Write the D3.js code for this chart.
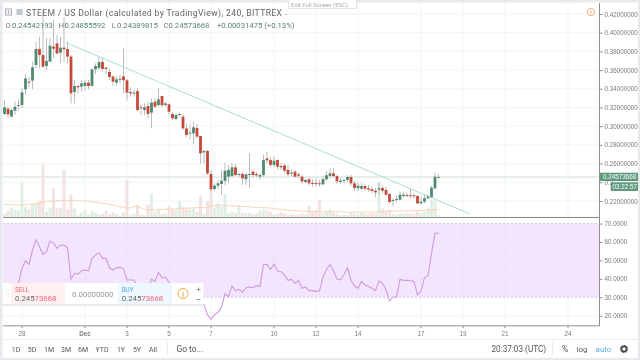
<!DOCTYPE html>
<html>
<head>
<meta charset="utf-8">
<script src="https://cdn.jsdelivr.net/npm/d3@7"></script>
<style>
html, body { margin: 0; padding: 0; background: #e6eaee; overflow: hidden; }
svg { display: block; font-family: "Liberation Sans", sans-serif; filter: blur(0.3px); }
</style>
</head>
<body>
<svg width="640" height="360"></svg>
<script>
// candles are 4h apart, first one at firstCandle
var firstCandle = Date.UTC(2018, 10, 27, 4);
var opens = [.3131,.3187,.3102,.3166,.3223,.3227,.3394,.3476,.3487,.3655,
	.3826,.3761,.3644,.3690,.3851,.3886,.3786,.3840,.3826,.3744,
	.3366,.3430,.3423,.3430,.3466,.3430,.3608,.3622,.3687,.3626,
	.3580,.3530,.3466,.3501,.3533,.3491,.3366,.3348,.3376,.3202,
	.3173,.3216,.3145,.3262,.3227,.3323,.3227,.3234,.3131,.3077,
	.3120,.3102,.2977,.2920,.2924,.2981,.2895,.2720,.2735,.2489,
	.2328,.2364,.2382,.2414,.2460,.2467,.2560,.2478,.2489,.2432,
	.2478,.2514,.2489,.2460,.2478,.2656,.2638,.2585,.2638,.2574,
	.2581,.2532,.2496,.2514,.2485,.2460,.2403,.2432,.2393,.2393,
	.2389,.2378,.2432,.2467,.2496,.2467,.2403,.2414,.2425,.2457,
	.2389,.2335,.2332,.2360,.2335,.2325,.2310,.2321,.2339,.2318,
	.2275,.2200,.2211,.2214,.2253,.2264,.2261,.2261,.2253,.2175,
	.2193,.2229,.2236,.2335,.2454];
var closes = [.3202,.3127,.3173,.3209,.3227,.3362,.3512,.3466,.3630,.3826,
	.3761,.3637,.3697,.3861,.3829,.3779,.3840,.3822,.3744,.3352,
	.3430,.3416,.3458,.3466,.3430,.3608,.3644,.3687,.3612,.3612,
	.3526,.3476,.3501,.3508,.3491,.3359,.3352,.3359,.3173,.3191,
	.3202,.3131,.3252,.3209,.3287,.3223,.3244,.3155,.3084,.3120,
	.3131,.2977,.2906,.2931,.2988,.2888,.2710,.2735,.2496,.2325,
	.2364,.2389,.2417,.2524,.2532,.2560,.2478,.2489,.2442,.2485,
	.2489,.2478,.2475,.2478,.2638,.2635,.2585,.2631,.2567,.2560,
	.2524,.2485,.2503,.2460,.2471,.2410,.2425,.2389,.2385,.2385,
	.2382,.2435,.2475,.2496,.2467,.2410,.2417,.2425,.2457,.2389,
	.2339,.2364,.2360,.2332,.2321,.2307,.2292,.2335,.2310,.2268,
	.2189,.2211,.2221,.2268,.2268,.2253,.2253,.2250,.2175,.2193,
	.2229,.2253,.2342,.2460,.2457];
var highs = [.3280,.3209,.3191,.3262,.3287,.3405,.3558,.3530,.3690,.3904,
	.3958,.4243,.3940,.3940,.4136,.3975,.3958,.4171,.3904,.3761,
	.3494,.3441,.3494,.3494,.3494,.3619,.3672,.3744,.3736,.3630,
	.3619,.3548,.3537,.3548,.3833,.3512,.3416,.3387,.3405,.3227,
	.3244,.3262,.3298,.3298,.3405,.3323,.3262,.3244,.3155,.3138,
	.3145,.3120,.3031,.3023,.3048,.3023,.2895,.2745,.2745,.2532,
	.2389,.2425,.2532,.2610,.2585,.2603,.2596,.2503,.2514,.2496,
	.2710,.2532,.2514,.2503,.2692,.2724,.2667,.2674,.2646,.2610,
	.2603,.2585,.2539,.2532,.2503,.2478,.2442,.2453,.2432,.2442,
	.2425,.2460,.2524,.2549,.2549,.2478,.2442,.2432,.2478,.2478,
	.2417,.2396,.2389,.2382,.2371,.2353,.2339,.2396,.2360,.2353,
	.2282,.2229,.2264,.2300,.2300,.2289,.2335,.2282,.2261,.2246,
	.2264,.2275,.2360,.2503,.2486];
var lows = [.3120,.3084,.3095,.3120,.3173,.3191,.3334,.3416,.3394,.3619,
	.3619,.3619,.3601,.3690,.3726,.3761,.3672,.3690,.3672,.3244,
	.3244,.3352,.3369,.3387,.3394,.3423,.3558,.3601,.3594,.3558,
	.3494,.3430,.3430,.3458,.3352,.3273,.3316,.3316,.3155,.3120,
	.3120,.3084,.2977,.3191,.3209,.3209,.3209,.3120,.3066,.3059,
	.3102,.2959,.2881,.2859,.2810,.2870,.2603,.2603,.2478,.2282,
	.2310,.2325,.2264,.2364,.2389,.2453,.2467,.2460,.2371,.2371,
	.2335,.2453,.2453,.2425,.2460,.2603,.2567,.2560,.2539,.2532,
	.2503,.2467,.2467,.2453,.2442,.2382,.2389,.2371,.2353,.2353,
	.2353,.2364,.2417,.2442,.2453,.2382,.2382,.2389,.2407,.2360,
	.2307,.2303,.2318,.2310,.2300,.2289,.2239,.2264,.2282,.2253,
	.2175,.2147,.2182,.2204,.2239,.2239,.2229,.2225,.2168,.2168,
	.2175,.2218,.2229,.2325,.2439];
var volumes = [8,18,28,22,20,102,30,23,40,42,48,157,14,27,86,25,26,140,22,65,
	25,5,12,22,7,17,12,7,8,18,7,13,8,3,12,110,4,9,35,8,
	5,36,70,15,20,8,10,32,22,20,47,30,22,22,24,15,62,10,46,70,
	28,40,30,70,10,15,12,35,10,12,12,8,10,18,22,20,15,8,8,15,
	10,6,8,5,6,10,7,32,15,20,50,10,15,22,12,8,5,6,6,12,
	10,7,12,8,8,12,10,105,25,15,20,8,6,10,8,10,10,8,20,12,
	15,25,50,50,4];
var volumeMA = [37,37,36,36,36,35,36,37,38,38,40,45,46,47,47,48,49,49,48,48,
	48,48,48,48,47,45,43,42,40,39,37,35,33,31,28,26,27,30,32,27,
	22,20,21,21,22,22,23,23,24,24,25,25,26,26,27,27,28,27,30,34,
	35,35,34,33,33,32,32,32,31,31,30,29,28,28,27,27,26,24,23,22,
	21,20,19,19,18,17,17,16,16,15,15,15,15,15,15,15,15,14,14,14,
	14,14,14,14,14,14,14,15,16,17,18,18,18,18,18,18,18,18,19,19,
	20,20,20,21,21];
var rsi = [34,33,31,32,37.6,45.7,49.8,47.8,55.6,61.2,57.4,53.2,54.7,60.5,59.4,56.5,58.3,58.3,56.8,39.9,
	43.0,42.6,44.4,44.8,44.4,51.1,52.9,54.3,51.1,51.1,46.0,44.8,46.0,46.2,45.7,39.4,39.4,39.4,35.8,34.0,
	33.1,34.0,39.9,38.5,43.5,40.6,41.0,38.1,35.8,32.2,33.1,30.4,28.6,28.6,29.5,28.6,25.9,25.9,20.5,18.1,
	20.5,21.9,24.6,31.8,30.4,36.1,33.6,34.3,32.7,35.2,35.6,35.2,36.3,35.8,47.8,47.8,45.1,48.0,44.2,43.9,
	42.1,39.2,39.7,37.6,39.2,34.9,35.6,33.6,33.6,33.2,33.4,41.2,45.1,47.8,44.4,39.9,39.4,42.4,46.0,39.4,
	36.1,34.9,38.6,36.7,35.8,34.9,33.6,38.8,37.6,34.0,28.0,30.2,30.2,39.7,39.2,39.2,39.0,38.6,31.3,33.4,
	40.6,41.7,53.8,64.6,64.8];

var priceTicks = [.22,.24,.26,.28,.30,.32,.34,.36,.38,.40,.42];
var rsiTicks = [20,30,40,50,60,70];
var dayTicks = [[Date.UTC(2018,10,28),"28"],[Date.UTC(2018,11,1),"Dec"],[Date.UTC(2018,11,3),"3"],[Date.UTC(2018,11,5),"5"],
	[Date.UTC(2018,11,7),"7"],[Date.UTC(2018,11,10),"10"],[Date.UTC(2018,11,12),"12"],[Date.UTC(2018,11,14),"14"],
	[Date.UTC(2018,11,17),"17"],[Date.UTC(2018,11,19),"19"],[Date.UTC(2018,11,21),"21"],[Date.UTC(2018,11,24),"24"]];
var trendDates = [Date.UTC(2018,10,30,2), Date.UTC(2018,11,19,8)];
var trendPrices = [.3895, .2061];
var lastPrice = .24573668;
var ranges = ["1D","5D","1M","3M","6M","YTD","1Y","5Y","All"];
var rangeX = [16,32,49,66,83,102,121,137,153];

var green = "#53896f", red = "#c4493a", wick = "#bcbcbc", grid = "#f3f4f6", axisGrey = "#8e8e8e", textGrey = "#7b7b7b";

var svg = d3.select("svg");

// scales
var x = d3.scaleUtc().domain([Date.UTC(2018,10,27), Date.UTC(2018,11,26)]).range([1, 610]);
var y = d3.scaleLinear().domain([.22, .42]).range([201, 14]);
var yVol = d3.scaleLinear().domain([0, 300]).range([216.8, 116.8]);
var yRsi = d3.scaleLinear().domain([30, 70]).range([297.3, 223.5]);
var candleX = function(i){ return x(firstCandle + i * 4 * 3600 * 1000); };

// white chart card
svg.append("rect").attr("x", 2.5).attr("y", 2.5).attr("width", 635.5).attr("height", 355.5).attr("fill", "#fff");

// grid
var gridG = svg.append("g").attr("stroke", grid).attr("stroke-width", 1);
dayTicks.forEach(function(d){
	gridG.append("line").attr("x1", x(d[0])).attr("x2", x(d[0])).attr("y1", 3).attr("y2", 325);
});
priceTicks.forEach(function(d){
	gridG.append("line").attr("x1", 3).attr("x2", 599).attr("y1", y(d)).attr("y2", y(d));
});

// rsi band
svg.append("rect").attr("x", 3).attr("y", yRsi(70)).attr("width", 596.5).attr("height", yRsi(30) - yRsi(70)).attr("fill", "#f3e5fe");
var rsiGrid = svg.append("g").attr("stroke", "#ebe2f3");
dayTicks.forEach(function(d){
	rsiGrid.append("line").attr("x1", x(d[0])).attr("x2", x(d[0])).attr("y1", yRsi(70)).attr("y2", yRsi(30));
});
rsiTicks.forEach(function(d){
	if(d > 30 && d < 70)
		rsiGrid.append("line").attr("x1", 3).attr("x2", 599).attr("y1", yRsi(d)).attr("y2", yRsi(d));
});
gridG.append("line").attr("x1", 3).attr("x2", 599).attr("y1", yRsi(20)).attr("y2", yRsi(20));
[30, 70].forEach(function(d){
	svg.append("line").attr("x1", 3).attr("x2", 599).attr("y1", yRsi(d)).attr("y2", yRsi(d))
		.attr("stroke", "#d9c8e6").attr("stroke-dasharray", "2,2");
});

// last price line
svg.append("line").attr("x1", 3).attr("x2", 599).attr("y1", y(lastPrice)).attr("y2", y(lastPrice))
	.attr("stroke", "#dce9e3").attr("stroke-width", 1.5);

// volume
svg.append("g").selectAll("rect").data(volumes).enter().append("rect")
	.attr("x", (d, i) => candleX(i) - 1.5)
	.attr("width", 3)
	.attr("y", d => yVol(d))
	.attr("height", d => yVol(0) - yVol(d))
	.attr("fill", (d, i) => closes[i] >= opens[i] ? "#e0efe3" : "#f3e2e2");

svg.append("path")
	.attr("d", d3.line().x((d, i) => candleX(i)).y(d => yVol(d))(volumeMA))
	.attr("fill", "none").attr("stroke", "#fbd3b5").attr("stroke-width", 1);

// candles
svg.append("g").selectAll("line").data(highs).enter().append("line")
	.attr("x1", (d, i) => candleX(i)).attr("x2", (d, i) => candleX(i))
	.attr("y1", d => y(d)).attr("y2", (d, i) => y(lows[i]))
	.attr("stroke", wick).attr("stroke-width", 1);
svg.append("g").selectAll("rect").data(opens).enter().append("rect")
	.attr("x", (d, i) => candleX(i) - 1.4)
	.attr("width", 2.8)
	.attr("y", (d, i) => y(Math.max(d, closes[i])))
	.attr("height", (d, i) => Math.max(1, Math.abs(y(d) - y(closes[i]))))
	.attr("fill", (d, i) => closes[i] >= d ? green : red);

// trend line
svg.append("line")
	.attr("x1", x(trendDates[0])).attr("y1", y(trendPrices[0]))
	.attr("x2", x(trendDates[1])).attr("y2", y(trendPrices[1]))
	.attr("stroke", "#a8e0d0").attr("stroke-width", 1);

// rsi line
svg.append("path")
	.attr("d", d3.line().x((d, i) => candleX(i)).y(d => yRsi(d))(rsi))
	.attr("fill", "none").attr("stroke", "#cf9ade").attr("stroke-width", 1.1);

// panel dividers
svg.append("line").attr("x1", 3).attr("x2", 600).attr("y1", 217.5).attr("y2", 217.5).attr("stroke", "#8a8a8a").attr("stroke-width", 1.2);
svg.append("line").attr("x1", 3).attr("x2", 600).attr("y1", 325.7).attr("y2", 325.7).attr("stroke", "#b5b5b5").attr("stroke-width", 1.4);

// right axes, the 0.24 label is mostly covered by the countdown tag so only "0.2" shows
var priceAxis = d3.axisRight(y).tickValues(priceTicks).tickFormat(d => d == .24 ? "0.2" : d3.format(".8f")(d)).tickSize(3).tickPadding(2);
var rsiAxis = d3.axisRight(yRsi).tickValues(rsiTicks).tickFormat(d3.format(".4f")).tickSize(3).tickPadding(2);
[priceAxis, rsiAxis].forEach(function(a){
	var g = svg.append("g").attr("transform", "translate(599.5,0)").call(a);
	g.select(".domain").remove();
	g.selectAll("line").attr("stroke", axisGrey);
	g.selectAll("text").attr("fill", textGrey).attr("font-size", 6.3).attr("font-family", "Liberation Sans");
});
svg.append("line").attr("x1", 599.5).attr("x2", 599.5).attr("y1", 3).attr("y2", 326).attr("stroke", axisGrey).attr("stroke-width", 1);

// bottom axis
var bottom = svg.append("g");
dayTicks.forEach(function(d){
	bottom.append("line").attr("x1", x(d[0])).attr("x2", x(d[0])).attr("y1", 326).attr("y2", 328).attr("stroke", axisGrey);
	bottom.append("text").attr("x", x(d[0])).attr("y", 336).attr("text-anchor", "middle")
		.attr("font-size", 6.3).attr("fill", textGrey).attr("font-weight", d[1] == "Dec" ? "bold" : "normal").text(d[1]);
});

// last price tags
svg.append("rect").attr("x", 600).attr("y", 172.7).attr("width", 38).attr("height", 8.4).attr("fill", "#5f9a7e");
svg.append("text").attr("x", 603).attr("y", 179).attr("font-size", 6.3).attr("fill", "#fff").text("0.24573668");
svg.append("rect").attr("x", 610.7).attr("y", 182.3).attr("width", 27.3).attr("height", 8.7).attr("fill", "#5f9a7e");
svg.append("text").attr("x", 612.5).attr("y", 189).attr("font-size", 6.3).attr("fill", "#fff").text("03:22:57");

// header
var titleFont = "Roboto";
svg.append("rect").attr("x", 5.5).attr("y", 9).attr("width", 6).attr("height", 6).attr("fill", "none").attr("stroke", "#aab");
svg.append("path").attr("d", "M8.5 10V14M6.5 12H10.5").attr("stroke", "#aab").attr("stroke-width", .7);
svg.append("rect").attr("x", 16.5).attr("y", 9).attr("width", 6).attr("height", 6).attr("fill", "#c3c8d0");
svg.append("text").attr("x", 26).attr("y", 16).attr("font-family", titleFont).attr("font-size", 8.6).attr("fill", "#666")
	.attr("textLength", 256).text("STEEM / US Dollar (calculated by TradingView), 240, BITTREX");
svg.append("text").attr("x", 285).attr("y", 15.5).attr("font-size", 8).attr("fill", "#888").text("-");

var ohlcLabels = ["O", "H", "L", "C"];
var ohlcValues = ["0.24542193", "0.24855592", "0.24389815", "0.24573668"];
var ohlcLabelX = [5.5, 58.5, 111.7, 163.5];
var ohlcValueX = [12, 64.5, 117, 168.5];
ohlcLabels.forEach(function(d, i){
	svg.append("text").attr("x", ohlcLabelX[i]).attr("y", 27.5).attr("font-family", titleFont).attr("font-size", 7.7).attr("fill", "#777").text(d);
	svg.append("text").attr("x", ohlcValueX[i]).attr("y", 27.5).attr("font-family", titleFont).attr("font-size", 7.7)
		.attr("fill", "#53836e").text(ohlcValues[i]);
});
svg.append("text").attr("x", 217).attr("y", 27.5).attr("font-family", titleFont).attr("font-size", 7.7)
	.attr("fill", "#53836e").text("+0.00031475 (+0.13%)");

// exit full screen tooltip
svg.append("rect").attr("x", 288.5).attr("y", -1).attr("width", 68).attr("height", 9.5).attr("fill", "#fff").attr("stroke", "#e3e3e3");
svg.append("text").attr("x", 291).attr("y", 6.5).attr("font-family", titleFont).attr("font-size", 6).attr("fill", "#aaa").text("Exit Full Screen (ESC)");

// alert icon
svg.append("circle").attr("cx", 591).attr("cy", 12).attr("r", 3.7).attr("fill", "none").attr("stroke", "#f8b27c").attr("stroke-width", 1);
svg.append("path").attr("d", "M591 10V14").attr("stroke", "#f8b27c").attr("stroke-width", 1);

// trade panel
svg.append("rect").attr("x", 3).attr("y", 283).attr("width", 200.5).attr("height", 22.5).attr("fill", "#fff");
svg.append("line").attr("x1", 3).attr("x2", 203.5).attr("y1", 305).attr("y2", 305).attr("stroke", "#dfe3e8").attr("stroke-width", 1.5);
svg.append("rect").attr("x", 11).attr("y", 283).attr("width", 54).attr("height", 21).attr("fill", "#fff1f2");
svg.append("rect").attr("x", 118).attr("y", 283).attr("width", 54).attr("height", 21).attr("fill", "#eef7fe");
svg.append("path").attr("d", "M6 291H9M6 293.5H9M6 296H9").attr("stroke", "#ddd").attr("stroke-dasharray", "1,1");
svg.append("text").attr("x", 15).attr("y", 292).attr("font-family", titleFont).attr("font-size", 6.3).attr("fill", "#f0637a").text("SELL");
svg.append("text").attr("x", 121.7).attr("y", 292).attr("font-family", titleFont).attr("font-size", 6.3).attr("fill", "#4ba7ee").text("BUY");
[[15, 300.5], [121.7, 300.5]].forEach(function(p){
	var t = svg.append("text").attr("x", p[0]).attr("y", p[1]).attr("font-family", titleFont).attr("font-size", 7.8).attr("fill", "#666");
	t.append("tspan").text("0.245");
	t.append("tspan").attr("fill", "#f0637a").text("73668");
});
svg.append("text").attr("x", 72).attr("y", 296.5).attr("font-family", titleFont).attr("font-size", 7.8).attr("fill", "#999").text("0.00000000");
svg.append("circle").attr("cx", 183).attr("cy", 293.5).attr("r", 5).attr("fill", "none").attr("stroke", "#f5a542").attr("stroke-width", 1);
svg.append("text").attr("x", 183).attr("y", 296.5).attr("text-anchor", "middle").attr("font-size", 7.5).attr("font-weight", "bold").attr("fill", "#f5a542").text("i");
svg.append("text").attr("x", 198.5).attr("y", 292).attr("text-anchor", "middle").attr("font-size", 8).attr("fill", "#555").text("+");
svg.append("text").attr("x", 198.5).attr("y", 302).attr("text-anchor", "middle").attr("font-size", 8).attr("fill", "#555").text("−");

// bottom toolbar
svg.append("line").attr("x1", 3).attr("x2", 638).attr("y1", 339.5).attr("y2", 339.5).attr("stroke", "#eceef1");
ranges.forEach(function(d, i){
	svg.append("text").attr("x", rangeX[i]).attr("y", 352).attr("text-anchor", "middle")
		.attr("font-family", titleFont).attr("font-size", 7).attr("fill", "#555").text(d);
});
svg.append("line").attr("x1", 167.5).attr("x2", 167.5).attr("y1", 342).attr("y2", 355).attr("stroke", "#e8eaed");
svg.append("text").attr("x", 176.5).attr("y", 352).attr("font-family", titleFont).attr("font-size", 8.4).attr("fill", "#555").text("Go to...");
svg.append("text").attr("x", 491.5).attr("y", 352).attr("font-family", titleFont).attr("font-size", 8.2).attr("fill", "#555").text("20:37:03 (UTC)");
svg.append("line").attr("x1", 552.5).attr("x2", 552.5).attr("y1", 342).attr("y2", 355).attr("stroke", "#e8eaed");
svg.append("text").attr("x", 565).attr("y", 352).attr("text-anchor", "middle").attr("font-family", titleFont).attr("font-size", 8.5).attr("fill", "#555").text("%");
svg.append("text").attr("x", 582).attr("y", 352).attr("text-anchor", "middle").attr("font-family", titleFont).attr("font-size", 8).attr("fill", "#555").text("log");
svg.append("text").attr("x", 603.5).attr("y", 352).attr("text-anchor", "middle").attr("font-family", titleFont).attr("font-size", 8).attr("fill", "#5aaeee").text("auto");
svg.append("circle").attr("cx", 624).attr("cy", 349).attr("r", 2.6).attr("fill", "none").attr("stroke", "#444").attr("stroke-width", 1.6);
svg.append("circle").attr("cx", 624).attr("cy", 349).attr("r", 3.6).attr("fill", "none").attr("stroke", "#444").attr("stroke-width", 1).attr("stroke-dasharray", "1.4,1.4");
</script>
</body>
</html>
